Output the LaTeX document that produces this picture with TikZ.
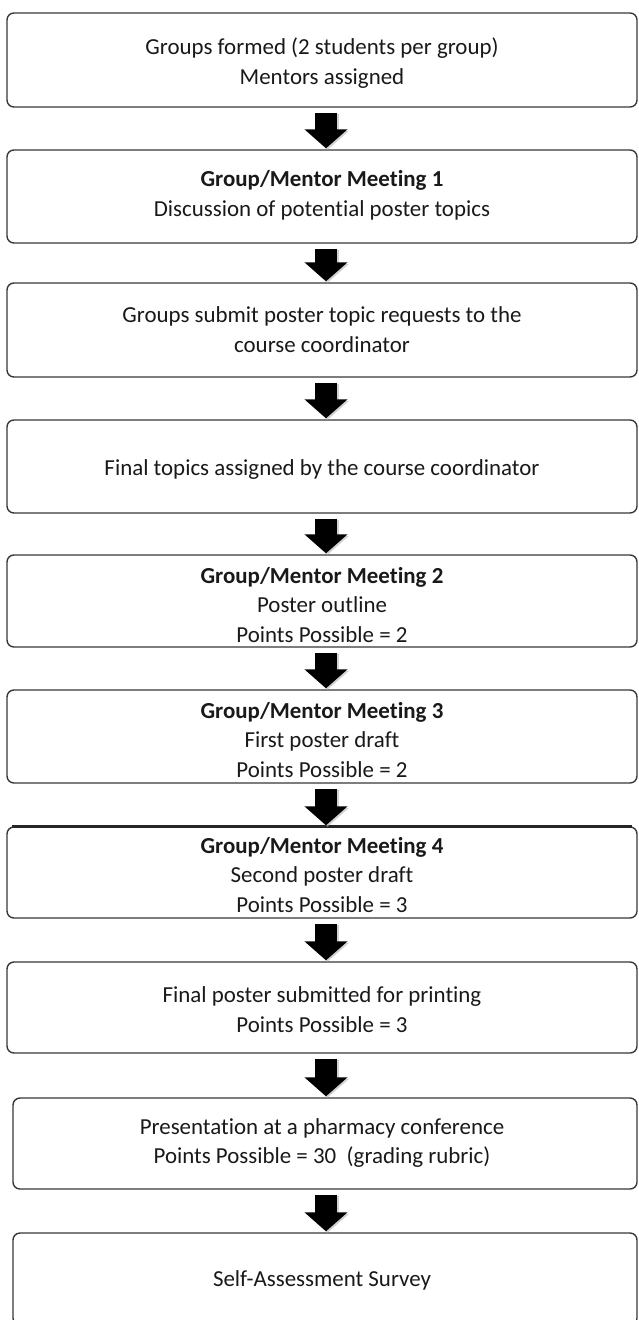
\documentclass[tikz,border=0pt]{standalone}
\usepackage{fontspec}
\setmainfont{Carlito}[Ligatures=NoCommon]
\usetikzlibrary{arrows.meta}
\begin{document}
\begin{tikzpicture}[x=1bp,y=-1bp,
  box/.style={draw=black!78, line width=1.4bp, rounded corners=7bp, fill=white,
    minimum width=630bp, inner sep=0pt},
  txt/.style={align=center, inner sep=0pt, font=\fontsize{23}{30}\selectfont, text=black!90},
  blockarrow/.style={line width=22bp, -{Triangle[width=42bp,length=19bp]}, black,
    shorten <=5bp, shorten >=1bp}]
\useasboundingbox (0,0) rectangle (639,1320);
% boxes
\node[box, minimum height=94bp] (b1) at (322,60) {};
\node[box, minimum height=93bp] (b2) at (322,196.5) {};
\node[box, minimum height=94bp] (b3) at (322,330) {};
\node[box, minimum height=93bp] (b4) at (322,466.5) {};
\node[box, minimum height=92bp] (b5) at (322,601) {};
\node[box, minimum height=93bp] (b6) at (322,736.5) {};
\node[box, minimum height=91bp] (b7) at (322,872.5) {};
\node[box, minimum height=91bp] (b8) at (322,1007.5) {};
\node[box, minimum height=91bp, minimum width=624bp] (b9) at (325,1143.5) {};
\node[box, minimum height=92bp, minimum width=624bp] (b10) at (325,1279) {};
\draw[black!85, line width=2.6bp] ([xshift=6bp]b7.north west) -- ([xshift=-6bp]b7.north east);
% texts
\node[txt] (t1) at (322,63) {Groups formed (2 students per group)\\Mentors assigned};
\node[txt] (t2) at (322,195) {\textbf{Group/Mentor Meeting 1}\\Discussion of potential poster topics};
\node[txt] (t3) at (322,330) {Groups submit poster topic requests to the\\course coordinator};
\node[txt] (t4) at (322,470) {Final topics assigned by the course coordinator};
\node[txt] (t5) at (322,605) {\textbf{Group/Mentor Meeting 2}\\Poster outline\\Points Possible = 2};
\node[txt] (t6) at (322,740) {\textbf{Group/Mentor Meeting 3}\\First poster draft\\Points Possible = 2};
\node[txt] (t7) at (322,875) {\textbf{Group/Mentor Meeting 4}\\Second poster draft\\Points Possible = 3};
\node[txt] (t8) at (322,1010) {Final poster submitted for printing\\Points Possible = 3};
\node[txt] (t9) at (322,1143) {Presentation at a pharmacy conference\\Points Possible = 30\ \ (grading rubric)};
\node[txt] (t10) at (322,1280) {Self-Assessment Survey};
% arrows
\foreach \a/\b in {b1/b2,b2/b3,b3/b4,b4/b5,b5/b6,b6/b7,b7/b8,b8/b9,b9/b10}{
  \draw[blockarrow, black!30, opacity=0.6, transform canvas={shift={(1.5bp,-1.5bp)}}]
    ([xshift=4bp]\a.south -| 322,0) -- ([xshift=4bp]\b.north -| 322,0);
  \draw[blockarrow] ([xshift=4bp]\a.south -| 322,0) -- ([xshift=4bp]\b.north -| 322,0);
}
\end{tikzpicture}
\end{document}
